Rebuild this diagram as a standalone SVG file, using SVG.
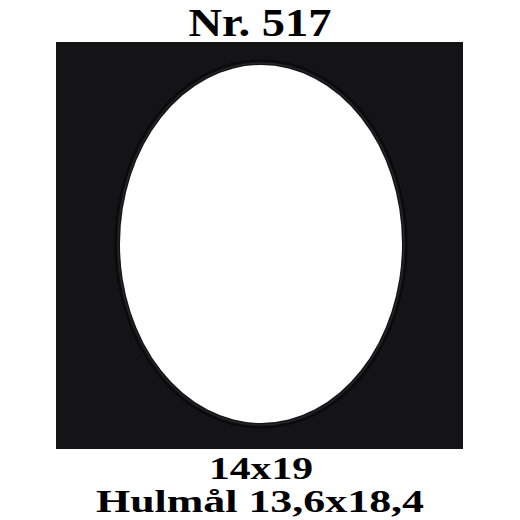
<svg xmlns="http://www.w3.org/2000/svg" width="520" height="520" viewBox="0 0 520 520">
<style>
.t{font-family:"Liberation Serif","Times New Roman",serif;font-weight:bold;fill:#000;text-anchor:middle}
</style>
<rect width="520" height="520" fill="#fff"/>
<g id="mat">
<rect x="56" y="42" width="407" height="407" fill="#141417"/>
<ellipse cx="261" cy="244" rx="145.5" ry="183.5" fill="none" stroke="#0a0a0c" stroke-width="2"/>
<ellipse cx="261" cy="244" rx="143" ry="181" fill="none" stroke="#2a2a2e" stroke-width="1"/>
<ellipse cx="261" cy="244" rx="141" ry="179" fill="#fff"/>
</g>
<g id="title">
<text class="t" x="260" y="36" font-size="40" textLength="143" lengthAdjust="spacingAndGlyphs">Nr. 517</text>
</g>
<g id="labels">
<text class="t" x="261" y="479" font-size="32" textLength="104" lengthAdjust="spacingAndGlyphs">14x19</text>
<text class="t" x="260" y="512" font-size="32" textLength="328" lengthAdjust="spacingAndGlyphs">Hulmål 13,6x18,4</text>
</g>
</svg>
